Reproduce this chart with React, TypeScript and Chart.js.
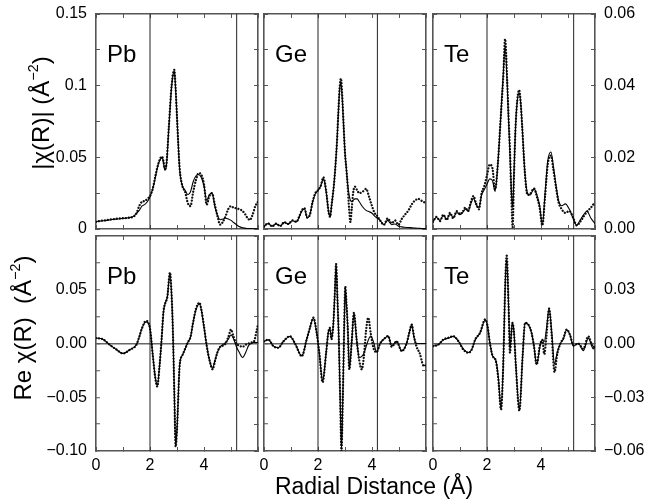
import React, { useEffect, useRef } from "react";
import { Chart, registerables } from "chart.js";

Chart.register(...registerables);
Chart.defaults.font.family = '"Liberation Sans", Arial, Helvetica, sans-serif';

// ---------------- tick labels ----------------
const radialTicks = [0, 2, 4];
const magLeftTicks = [0, 0.05, 0.1, 0.15];
const magRightTicks = [0, 0.02, 0.04, 0.06];
const reLeftTicks = [-0.1, -0.05, 0, 0.05];
const reRightTicks = [-0.06, -0.03, 0, 0.03];

// ---------------- fit ranges (vertical lines) ----------------
const pbFitRange = [2, 5.21];
const geFitRange = [2, 4.2];
const teFitRange = [2, 5.21];

// ---------------- |chi(R)| : Pb ----------------
const pbMagR = [0, 0.2, 0.4, 0.6, 0.8, 1.0, 1.2, 1.4, 1.5, 1.6, 1.7, 1.8, 1.9, 2.0, 2.1, 2.2, 2.3, 2.4, 2.45, 2.5, 2.55, 2.6, 2.7, 2.8, 2.9, 2.95, 3.0, 3.05, 3.1, 3.2, 3.3, 3.4, 3.5, 3.6, 3.7, 3.8, 3.9, 4.0, 4.1, 4.2, 4.3, 4.4, 4.5, 4.6, 4.7, 4.8, 4.9, 5.0, 5.1, 5.2, 5.3, 5.4, 5.5, 5.6, 5.7, 5.8, 5.9, 6.0];
const pbMagData = [0.005, 0.0058, 0.0062, 0.0068, 0.0072, 0.0075, 0.0078, 0.0088, 0.011, 0.016, 0.019, 0.0195, 0.021, 0.023, 0.028, 0.037, 0.045, 0.05, 0.0505, 0.047, 0.042, 0.044, 0.072, 0.1, 0.111, 0.098, 0.078, 0.058, 0.042, 0.03, 0.026, 0.018, 0.016, 0.026, 0.034, 0.039, 0.038, 0.031, 0.017, 0.023, 0.025, 0.017, 0.009, 0.003, 0.005, 0.009, 0.014, 0.016, 0.0148, 0.0145, 0.0138, 0.013, 0.011, 0.008, 0.0063, 0.01, 0.016, 0.019];
const pbMagFit = [0.0052, 0.0056, 0.006, 0.0066, 0.007, 0.0074, 0.0078, 0.009, 0.011, 0.013, 0.016, 0.017, 0.019, 0.0225, 0.028, 0.036, 0.045, 0.049, 0.05, 0.046, 0.041, 0.043, 0.071, 0.099, 0.11, 0.097, 0.078, 0.058, 0.041, 0.03, 0.027, 0.024, 0.026, 0.033, 0.037, 0.038, 0.036, 0.03, 0.02, 0.024, 0.025, 0.016, 0.0095, 0.0065, 0.007, 0.0075, 0.007, 0.006, 0.0045, 0.003, 0.0018, 0.001, 0.0006, 0.0004, 0.0003, 0.0002, 0.0002, 0.0002];

// ---------------- |chi(R)| : Ge ----------------
const geMagR = [0, 0.15, 0.3, 0.45, 0.6, 0.75, 0.9, 1.05, 1.2, 1.3, 1.4, 1.5, 1.6, 1.7, 1.8, 1.9, 2.0, 2.1, 2.2, 2.3, 2.4, 2.45, 2.5, 2.6, 2.7, 2.75, 2.8, 2.85, 2.9, 2.95, 3.0, 3.05, 3.1, 3.15, 3.2, 3.25, 3.3, 3.37, 3.45, 3.53, 3.65, 3.78, 3.9, 4.0, 4.1, 4.2, 4.3, 4.44, 4.58, 4.73, 4.85, 4.98, 5.1, 5.2, 5.35, 5.5, 5.6, 5.72, 5.85, 6.0];
const geMagData = [0.0018, 0.004, 0.0018, 0.0038, 0.002, 0.0048, 0.0035, 0.006, 0.005, 0.0085, 0.013, 0.0145, 0.008, 0.01, 0.019, 0.025, 0.027, 0.03, 0.036, 0.027, 0.011, 0.0085, 0.016, 0.033, 0.06, 0.08, 0.098, 0.105, 0.092, 0.072, 0.053, 0.042, 0.03, 0.0145, 0.005, 0.014, 0.025, 0.0295, 0.027, 0.025, 0.026, 0.028, 0.022, 0.016, 0.011, 0.009, 0.006, 0.003, 0.0074, 0.004, 0.006, 0.003, 0.007, 0.0095, 0.013, 0.018, 0.02, 0.021, 0.0195, 0.018];
const geMagFit = [0.0016, 0.0038, 0.002, 0.0036, 0.0022, 0.0046, 0.0035, 0.0058, 0.005, 0.008, 0.0125, 0.014, 0.0078, 0.01, 0.019, 0.0245, 0.027, 0.03, 0.035, 0.026, 0.011, 0.0085, 0.016, 0.033, 0.06, 0.079, 0.097, 0.102, 0.09, 0.071, 0.053, 0.042, 0.031, 0.024, 0.02, 0.019, 0.02, 0.021, 0.021, 0.019, 0.0155, 0.013, 0.012, 0.011, 0.009, 0.0075, 0.006, 0.003, 0.006, 0.003, 0.0035, 0.002, 0.0015, 0.0012, 0.001, 0.0008, 0.0006, 0.0005, 0.0004, 0.0004];

// ---------------- |chi(R)| : Te ----------------
const teMagR = [0, 0.13, 0.26, 0.38, 0.51, 0.63, 0.75, 0.88, 1.0, 1.1, 1.2, 1.3, 1.4, 1.5, 1.6, 1.7, 1.8, 1.9, 2.0, 2.1, 2.2, 2.3, 2.4, 2.5, 2.55, 2.6, 2.67, 2.75, 2.8, 2.85, 2.9, 2.95, 3.0, 3.05, 3.1, 3.19, 3.25, 3.3, 3.4, 3.5, 3.6, 3.74, 3.85, 3.95, 4.05, 4.15, 4.25, 4.37, 4.45, 4.55, 4.65, 4.77, 4.9, 5.05, 5.2, 5.32, 5.45, 5.58, 5.7, 5.85, 6.0];
const teMagData = [0.002, 0.0034, 0.0022, 0.004, 0.0025, 0.0045, 0.003, 0.005, 0.0042, 0.0048, 0.006, 0.005, 0.0075, 0.0092, 0.007, 0.0055, 0.01, 0.012, 0.015, 0.018, 0.017, 0.011, 0.018, 0.03, 0.036, 0.042, 0.053, 0.041, 0.031, 0.022, 0.01, 0.0005, 0.015, 0.027, 0.034, 0.0388, 0.035, 0.029, 0.016, 0.0095, 0.0098, 0.0113, 0.009, 0.006, 0.001, 0.009, 0.018, 0.0205, 0.017, 0.012, 0.0075, 0.0055, 0.0045, 0.005, 0.003, 0.001, 0.002, 0.0035, 0.0048, 0.006, 0.0075];
const teMagFit = [0.0022, 0.0032, 0.0024, 0.0038, 0.0028, 0.0042, 0.0032, 0.0046, 0.004, 0.0046, 0.0055, 0.005, 0.007, 0.0085, 0.0068, 0.006, 0.0095, 0.011, 0.0125, 0.014, 0.0135, 0.0105, 0.018, 0.03, 0.037, 0.043, 0.051, 0.04, 0.03, 0.021, 0.011, 0.006, 0.016, 0.027, 0.034, 0.038, 0.035, 0.029, 0.016, 0.01, 0.0095, 0.0112, 0.0095, 0.0065, 0.0012, 0.01, 0.019, 0.0215, 0.018, 0.0125, 0.008, 0.0065, 0.007, 0.0055, 0.0028, 0.001, 0.0025, 0.004, 0.005, 0.003, 0.0015];

// ---------------- Re chi(R) : Pb ----------------
const pbReR = [0, 0.25, 0.5, 0.75, 1.0, 1.25, 1.5, 1.6, 1.7, 1.85, 2.0, 2.1, 2.2, 2.27, 2.35, 2.43, 2.5, 2.57, 2.64, 2.74, 2.8, 2.85, 2.9, 2.95, 3.0, 3.1, 3.2, 3.3, 3.4, 3.5, 3.6, 3.7, 3.83, 3.9, 4.0, 4.1, 4.2, 4.32, 4.4, 4.5, 4.6, 4.7, 4.8, 4.9, 5.0, 5.1, 5.2, 5.3, 5.43, 5.55, 5.65, 5.75, 5.85, 5.95, 6.0];
const pbReData = [0.005, 0.004, -0.001, -0.0055, -0.0093, -0.0058, -0.001, 0.006, 0.014, 0.021, 0.014, -0.01, -0.033, -0.04, -0.022, 0.004, 0.03, 0.038, 0.043, 0.066, 0.045, 0.01, -0.045, -0.096, -0.08, -0.02, -0.011, -0.005, 0.001, 0.006, 0.02, 0.032, 0.038, 0.032, 0.016, -0.002, -0.015, -0.024, -0.017, -0.008, -0.003, -0.002, 0.0, 0.006, 0.013, 0.006, 0.0, -0.002, -0.003, -0.001, 0.0, 0.001, 0.002, 0.012, 0.018];
const pbReFit = [0.005, 0.004, -0.001, -0.0055, -0.0093, -0.0058, -0.001, 0.006, 0.014, 0.02, 0.014, -0.01, -0.032, -0.039, -0.022, 0.004, 0.029, 0.038, 0.043, 0.065, 0.045, 0.01, -0.045, -0.095, -0.08, -0.02, -0.011, -0.005, 0.001, 0.006, 0.02, 0.031, 0.037, 0.031, 0.015, -0.002, -0.015, -0.023, -0.016, -0.008, -0.003, -0.001, 0.001, 0.004, 0.008, 0.004, -0.003, -0.008, -0.013, -0.008, -0.002, 0.0, 0.001, 0.001, 0.001];

// ---------------- Re chi(R) : Ge ----------------
const geReR = [0, 0.16, 0.35, 0.53, 0.72, 0.96, 1.15, 1.4, 1.58, 1.7, 1.83, 1.95, 2.05, 2.17, 2.3, 2.38, 2.44, 2.5, 2.57, 2.62, 2.67, 2.72, 2.77, 2.82, 2.87, 2.92, 2.97, 3.01, 3.05, 3.1, 3.16, 3.25, 3.33, 3.43, 3.53, 3.62, 3.7, 3.78, 3.86, 3.95, 4.05, 4.17, 4.3, 4.48, 4.6, 4.73, 4.91, 5.1, 5.28, 5.38, 5.47, 5.56, 5.65, 5.78, 5.88, 5.96, 6.0];
const geReData = [0.002, 0.0037, -0.0025, -0.004, 0.002, 0.0068, 0.0, -0.0118, 0.0037, 0.0145, 0.024, 0.01, -0.009, -0.036, -0.009, 0.01, 0.0145, 0.004, 0.019, 0.045, 0.074, 0.042, 0.005, -0.05, -0.1, -0.05, 0.015, 0.053, 0.039, 0.016, -0.024, 0.002, 0.0285, 0.004, -0.016, -0.024, -0.012, 0.012, 0.024, 0.01, -0.004, -0.008, 0.0, 0.005, 0.007, -0.003, 0.002, -0.007, 0.0, 0.01, 0.0176, 0.006, -0.003, -0.01, -0.0195, -0.021, -0.019];
const geReFit = [0.002, 0.0035, -0.0025, -0.0038, 0.002, 0.0065, 0.0, -0.0115, 0.0037, 0.0145, 0.0235, 0.01, -0.009, -0.035, -0.009, 0.01, 0.014, 0.004, 0.019, 0.045, 0.073, 0.042, 0.005, -0.05, -0.098, -0.05, 0.015, 0.052, 0.039, 0.016, -0.023, 0.002, 0.028, 0.004, -0.013, -0.012, -0.009, -0.003, 0.003, 0.007, 0.002, -0.008, 0.0, 0.005, 0.007, -0.002, 0.002, -0.007, 0.0, 0.01, 0.0176, 0.005, 0.0, 0.0, 0.0, 0.0, 0.0];

// ---------------- Re chi(R) : Te ----------------
const teReR = [0, 0.2, 0.38, 0.57, 0.75, 0.94, 1.12, 1.31, 1.43, 1.56, 1.74, 1.93, 2.01, 2.11, 2.21, 2.33, 2.42, 2.52, 2.6, 2.68, 2.73, 2.8, 2.85, 2.94, 3.0, 3.07, 3.2, 3.32, 3.41, 3.53, 3.65, 3.74, 3.84, 3.96, 4.05, 4.12, 4.2, 4.3, 4.4, 4.5, 4.6, 4.72, 4.83, 4.95, 5.07, 5.2, 5.38, 5.57, 5.75, 5.94, 6.0];
const teReData = [-0.0015, -0.0006, 0.0022, 0.0032, 0.0041, 0.0013, -0.0033, -0.0052, -0.0035, 0.0022, 0.0059, 0.0134, 0.0106, 0.0, -0.007, -0.0098, -0.02, -0.0368, -0.0126, 0.0357, 0.049, 0.0208, -0.005, 0.0115, 0.006, -0.0126, -0.0375, -0.007, 0.0115, 0.0106, 0.006, -0.0015, -0.0117, -0.001, 0.002, -0.006, 0.004, 0.0195, 0.004, -0.016, -0.006, 0.0, 0.003, 0.0078, 0.005, -0.001, 0.0, -0.003, 0.004, -0.002, -0.001];
const teReFit = [-0.0015, -0.0006, 0.002, 0.003, 0.004, 0.0013, -0.003, -0.005, -0.0035, 0.002, 0.0058, 0.013, 0.0105, 0.0, -0.007, -0.0095, -0.019, -0.036, -0.0126, 0.035, 0.047, 0.0208, -0.003, 0.0115, 0.006, -0.0126, -0.037, -0.007, 0.0115, 0.0105, 0.006, -0.0015, -0.0117, -0.002, 0.002, 0.001, 0.008, 0.0195, 0.006, -0.0115, -0.005, 0.0, 0.0025, 0.0075, 0.005, -0.0015, 0.0, -0.004, 0.003, -0.003, -0.002];

// ---------------- layout (pixels) ----------------
const COL_X = [96, 264, 433];
const ROW_Y = [14, 236];
const PW = 162;
const PH = 215;
const FRAME = "#555";
const TICK_FONT = { size: 16, family: '"Liberation Sans", Arial, Helvetica, sans-serif' };

type PanelSpec = {
  label: string;
  r: number[];
  data: number[];
  fit: number[];
  range: number[];
  yMin: number;
  yMax: number;
  yStep: number;
  col: number;
  row: number;
  leftTicks?: number[];
  leftDecimals?: number | null;
  rightTicks?: number[];
};

const panels: PanelSpec[] = [
  { label: "Pb", r: pbMagR, data: pbMagData, fit: pbMagFit, range: pbFitRange, yMin: 0, yMax: 0.15, yStep: 0.025, col: 0, row: 0, leftTicks: magLeftTicks, leftDecimals: null },
  { label: "Ge", r: geMagR, data: geMagData, fit: geMagFit, range: geFitRange, yMin: 0, yMax: 0.15, yStep: 0.025, col: 1, row: 0 },
  { label: "Te", r: teMagR, data: teMagData, fit: teMagFit, range: teFitRange, yMin: 0, yMax: 0.06, yStep: 0.01, col: 2, row: 0, rightTicks: magRightTicks },
  { label: "Pb", r: pbReR, data: pbReData, fit: pbReFit, range: pbFitRange, yMin: -0.1, yMax: 0.1, yStep: 0.025, col: 0, row: 1, leftTicks: reLeftTicks, leftDecimals: 2 },
  { label: "Ge", r: geReR, data: geReData, fit: geReFit, range: geFitRange, yMin: -0.1, yMax: 0.1, yStep: 0.025, col: 1, row: 1 },
  { label: "Te", r: teReR, data: teReData, fit: teReFit, range: teFitRange, yMin: -0.06, yMax: 0.06, yStep: 0.015, col: 2, row: 1, rightTicks: reRightTicks },
];

function tickCb(labels: number[] | undefined, decimals: number | null) {
  return (v: number | string) => {
    if (!labels) return "";
    const n = Number(v);
    const hit = labels.find((l) => Math.abs(l - n) < 1e-9);
    if (hit === undefined) return "";
    const s = decimals === null ? String(hit) : hit.toFixed(decimals);
    return s.replace("-", "\u2212");
  };
}

function labelPlugin(text: string) {
  return {
    id: "panelLabel",
    afterDatasetsDraw(chart: any) {
      const { ctx, chartArea } = chart;
      ctx.save();
      ctx.font = '24px "Liberation Sans", Arial, Helvetica, sans-serif';
      ctx.fillStyle = "#000";
      ctx.textAlign = "left";
      ctx.textBaseline = "alphabetic";
      ctx.fillText(text, chartArea.left + 11, chartArea.top + 48);
      ctx.restore();
    },
  };
}

function fixSize(dim: "width" | "height", size: number) {
  return (s: any) => {
    s[dim] = size;
    s.paddingTop = 0;
    s.paddingBottom = 0;
    s.paddingLeft = 0;
    s.paddingRight = 0;
  };
}

function Panel({ spec }: { spec: PanelSpec }) {
  const ref = useRef<HTMLCanvasElement | null>(null);
  const L = spec.col === 0 ? 96 : 10;
  const R = spec.col === 2 ? 55 : 10;
  const T = 12;
  const B = spec.row === 1 ? 40 : 10;
  const W = L + PW + R;
  const H = T + PH + B;
  const left = COL_X[spec.col] - L;
  const top = ROW_Y[spec.row] - T;

  useEffect(() => {
    const canvas = ref.current;
    if (!canvas) return;
    const pts = (ys: number[]) => spec.r.map((x, i) => ({ x, y: ys[i] }));
    const vline = (x: number) => ({
      data: [
        { x, y: spec.yMin },
        { x, y: spec.yMax },
      ],
      borderColor: "#222",
      borderWidth: 1,
      pointRadius: 0,
      tension: 0,
      xAxisID: "x",
      yAxisID: "y",
    });
    const gridBase = { drawOnChartArea: false, tickLength: -4, tickColor: FRAME, tickWidth: 1 };
    const yGrid =
      spec.row === 1
        ? {
            ...gridBase,
            drawOnChartArea: true,
            lineWidth: 1.5,
            color: (c: any) => (c.tick && Math.abs(c.tick.value) < 1e-9 ? "#666" : "rgba(0,0,0,0)"),
          }
        : gridBase;
    const border = { display: true, color: FRAME, width: 1.6 };

    const chart = new Chart(canvas, {
      type: "line",
      data: {
        datasets: [
          {
            data: pts(spec.fit),
            borderColor: "#000",
            borderWidth: 1.1,
            pointRadius: 0,
            cubicInterpolationMode: "monotone",
            xAxisID: "x",
            yAxisID: "y",
          },
          {
            data: pts(spec.data),
            borderColor: "#111",
            borderWidth: 2.3,
            borderDash: [0.01, 3],
            borderCapStyle: "round",
            pointRadius: 0,
            cubicInterpolationMode: "monotone",
            xAxisID: "x",
            yAxisID: "y",
          },
          vline(spec.range[0]),
          vline(spec.range[1]),
        ] as any,
      },
      options: {
        responsive: false,
        animation: false,
        devicePixelRatio: 1,
        events: [],
        layout: { padding: 0, autoPadding: false },
        plugins: { legend: { display: false }, tooltip: { enabled: false }, title: { display: false } },
        scales: {
          x: {
            type: "linear",
            position: "bottom",
            min: 0,
            max: 6,
            ticks: {
              stepSize: 1,
              display: spec.row === 1,
              autoSkip: false,
              maxRotation: 0,
              padding: 9,
              color: "#000",
              font: TICK_FONT,
              callback: tickCb(radialTicks, 0),
            },
            grid: gridBase,
            border,
            afterFit: fixSize("height", B),
          },
          xTop: {
            type: "linear",
            position: "top",
            min: 0,
            max: 6,
            ticks: { stepSize: 1, display: false, autoSkip: false },
            grid: gridBase,
            border,
            afterFit: fixSize("height", T),
          },
          y: {
            type: "linear",
            position: "left",
            min: spec.yMin,
            max: spec.yMax,
            ticks: {
              stepSize: spec.yStep,
              display: !!spec.leftTicks,
              autoSkip: false,
              padding: 13,
              color: "#000",
              font: TICK_FONT,
              callback: tickCb(spec.leftTicks, spec.leftDecimals === undefined ? 2 : spec.leftDecimals),
            },
            grid: yGrid,
            border,
            afterFit: fixSize("width", L),
          },
          yRight: {
            type: "linear",
            position: "right",
            min: spec.yMin,
            max: spec.yMax,
            ticks: {
              stepSize: spec.yStep,
              display: !!spec.rightTicks,
              autoSkip: false,
              padding: 13,
              color: "#000",
              font: TICK_FONT,
              callback: tickCb(spec.rightTicks, 2),
            },
            grid: gridBase,
            border,
            afterFit: fixSize("width", R),
          },
        },
      } as any,
      plugins: [labelPlugin(spec.label)],
    });
    return () => chart.destroy();
  }, []);

  return (
    <canvas
      ref={ref}
      width={W}
      height={H}
      style={{ position: "absolute", left, top, width: W, height: H }}
    />
  );
}

const titleBase: React.CSSProperties = {
  position: "absolute",
  fontFamily: '"Liberation Sans", Arial, Helvetica, sans-serif',
  fontSize: 24,
  lineHeight: "24px",
  whiteSpace: "nowrap",
  color: "#000",
};
const supStyle: React.CSSProperties = { fontSize: "0.6em", verticalAlign: "0.75em", lineHeight: 0 };

export default function App() {
  return (
    <div style={{ position: "absolute", left: 0, top: 0, width: 650, height: 503, background: "#fff", overflow: "hidden" }}>
      {panels.map((p, i) => (
        <Panel key={i} spec={p} />
      ))}
      <div style={{ ...titleBase, left: 41, top: 113, transform: "translate(-50%, -50%) rotate(-90deg)" }}>
        |χ(R)| (Å<sup style={supStyle}>−2</sup>)
      </div>
      <div style={{ ...titleBase, left: 23, top: 328, transform: "translate(-50%, -50%) rotate(-90deg)" }}>
        Re χ(R){"\u00a0\u00a0"}(Å<sup style={supStyle}>−2</sup>)
      </div>
      <div style={{ ...titleBase, left: 374, top: 475, transform: "translateX(-50%)", fontSize: 23, lineHeight: "23px" }}>
        Radial Distance (Å)
      </div>
    </div>
  );
}
